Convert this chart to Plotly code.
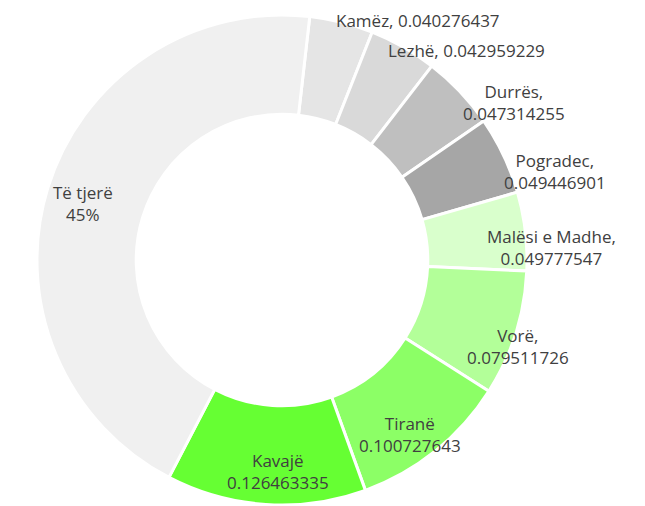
import plotly.graph_objects as go

# ---- data ----
categories = ["Kamëz", "Lezhë", "Durrës", "Pogradec", "Malësi e Madhe",
              "Vorë", "Tiranë", "Kavajë", "Të tjerë"]
values = [0.040276437, 0.042959229, 0.047314255, 0.049446901, 0.049777547,
          0.079511726, 0.100727643, 0.126463335, 0.4245]
label_texts = ["Kamëz, 0.040276437", "Lezhë, 0.042959229",
               "Durrës,<br>0.047314255", "Pogradec,<br>0.049446901",
               "Malësi e Madhe,<br>0.049777547", "Vorë,<br>0.079511726",
               "Tiranë<br>0.100727643", "Kavajë<br>0.126463335", "Të tjerë<br>45%"]
colors = ["#e5e5e5", "#d9d9d9", "#bfbfbf", "#a6a6a6", "#d9ffcc",
          "#b3ff99", "#8cff66", "#66ff33", "#f0f0f0"]

# label anchor positions in pixels (layout only)
W, H = 645, 506
label_pos = [(418, 21), (466, 51), (514, 103), (555, 171), (551, 247),
             (518, 346), (410, 434), (278, 471), (83, 203)]

cx, cy, R = 282, 260, 245

fig = go.Figure(go.Pie(
    labels=categories,
    values=values,
    sort=False,
    direction="clockwise",
    rotation=6.5,
    hole=0.595,
    textinfo="none",
    hoverinfo="label+value",
    marker=dict(colors=colors, line=dict(color="white", width=3)),
    domain=dict(x=[(cx - R) / W, (cx + R) / W],
                y=[1 - (cy + R) / H, 1 - (cy - R) / H]),
    showlegend=False,
))

for txt, (px, py) in zip(label_texts, label_pos):
    fig.add_annotation(x=px / W, y=1 - py / H, xref="paper", yref="paper",
                       text=txt, showarrow=False, xanchor="center", yanchor="middle",
                       font=dict(family="Open Sans", size=17, color="#404040"))

fig.update_layout(width=W, height=H, margin=dict(l=0, r=0, t=0, b=0),
                  paper_bgcolor="white", plot_bgcolor="white")
fig.write_html("out.html", config={"displayModeBar": False},
               post_script="document.body.style.margin='0px';document.body.style.overflow='hidden';")
